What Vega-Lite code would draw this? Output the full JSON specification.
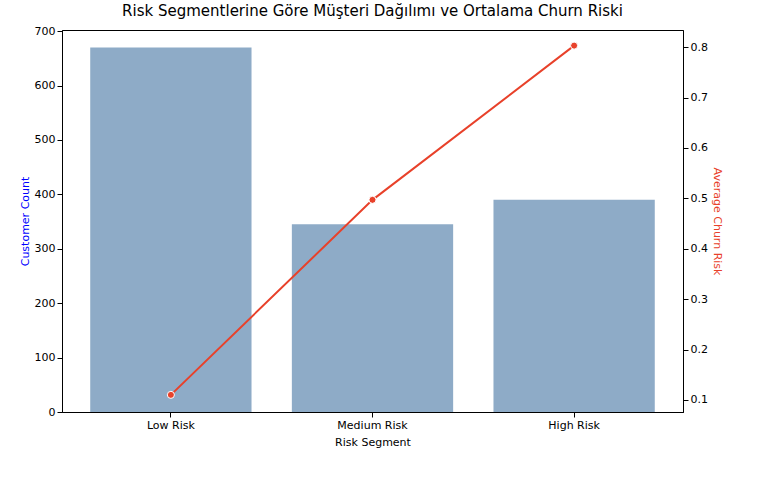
{
  "$schema": "https://vega.github.io/schema/vega-lite/v6.json",
  "title": {"text": "Risk Segmentlerine Göre Müşteri Dağılımı ve Ortalama Churn Riski", "fontSize": 15, "fontWeight": "normal", "color": "black", "offset": 6},
  "config": {"font": "DejaVu Sans", "view": {"stroke": "black"}, "axis": {"labelFontSize": 11, "titleFontSize": 11, "titleFontWeight": "normal", "grid": false, "tickColor": "black", "domainColor": "black", "labelColor": "black"}},
  "autosize": "none",
  "padding": {"left": 62, "top": 30, "right": 75, "bottom": 75},
  "width": 621,
  "height": 382,
  "data": {"values": [
    {"segment": "Low Risk", "count": 670, "risk": 0.11},
    {"segment": "Medium Risk", "count": 345, "risk": 0.497},
    {"segment": "High Risk", "count": 390, "risk": 0.803}
  ]},
  "encoding": {
    "x": {"field": "segment", "type": "nominal", "sort": null, "title": "Risk Segment", "scale": {"paddingInner": 0.2, "paddingOuter": 0.14}, "axis": {"labelAngle": 0, "titlePadding": 6}}
  },
  "layer": [
    {
      "mark": {"type": "bar", "color": "#8eabc7"},
      "encoding": {
        "y": {"field": "count", "type": "quantitative", "title": "Customer Count", "scale": {"domain": [0, 702], "nice": false}, "axis": {"titleColor": "blue", "tickCount": 8, "values": [0,100,200,300,400,500,600,700]}}
      }
    },
    {
      "mark": {"type": "line", "color": "#e8412a", "strokeWidth": 2, "point": {"filled": true, "color": "#e8412a", "stroke": "white", "strokeWidth": 1, "size": 50}},
      "encoding": {
        "y": {"field": "risk", "type": "quantitative", "title": "Average Churn Risk", "scale": {"domain": [0.076, 0.834], "nice": false, "zero": false}, "axis": {"orient": "right", "titleColor": "#e8412a", "values": [0.1,0.2,0.3,0.4,0.5,0.6,0.7,0.8]}}
      }
    }
  ],
  "resolve": {"scale": {"y": "independent"}}
}
